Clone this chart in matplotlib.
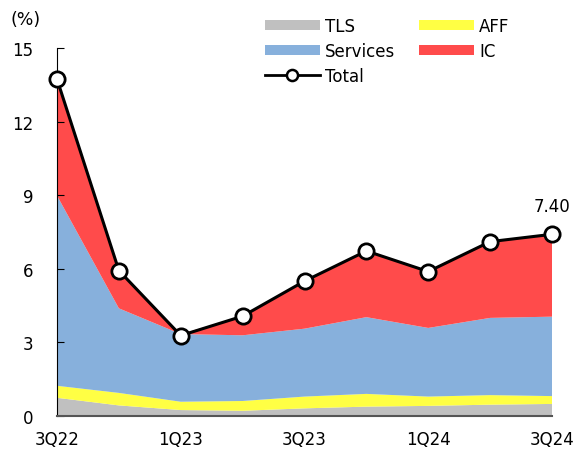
import matplotlib
matplotlib.use("Agg")
import matplotlib.pyplot as plt
import numpy as np
from matplotlib.patches import Patch
from matplotlib.lines import Line2D

plt.rcParams['font.family'] = ['DejaVu Sans']

quarters = ["3Q22", "4Q22", "1Q23", "2Q23", "3Q23", "4Q23", "1Q24", "2Q24", "3Q24"]
tls = [0.73, 0.42, 0.23, 0.20, 0.30, 0.37, 0.40, 0.45, 0.48]
aff = [0.49, 0.51, 0.34, 0.40, 0.48, 0.52, 0.38, 0.39, 0.32]
services = [7.76, 3.45, 2.76, 2.68, 2.77, 3.13, 2.80, 3.15, 3.24]
ic = [4.75, 1.54, 0.0, 0.78, 1.94, 2.70, 2.30, 3.11, 3.36]
total = [13.73, 5.92, 3.27, 4.06, 5.49, 6.72, 5.88, 7.10, 7.40]
y_ticks = [0, 3, 6, 9, 12, 15]
x_labels = ["3Q22", "", "1Q23", "", "3Q23", "", "1Q24", "", "3Q24"]

c_tls = "#c0c0c0"
c_aff = "#ffff44"
c_serv = "#87b0dc"
c_ic = "#ff4b4b"

fig = plt.figure(figsize=(5.74, 4.52), dpi=100)
ax = fig.add_axes([57/574, 1-416.7/452, (552-57)/574, (416.7-49)/452])

x = np.arange(len(quarters))
ax.stackplot(x, tls, aff, services, ic, colors=[c_tls, c_aff, c_serv, c_ic], linewidth=0)
ax.plot(x, total, color="black", lw=2.2, marker="o", markersize=11,
        markerfacecolor="white", markeredgecolor="black", markeredgewidth=2,
        clip_on=False, zorder=5)

ax.annotate(f"{total[-1]:.2f}", (x[-1], total[-1]), xytext=(0, 14),
            textcoords="offset points", ha="center", va="bottom", fontsize=12)

ax.set_xlim(0, len(quarters) - 1)
ax.set_ylim(0, 15)
ax.set_yticks(y_ticks)
ax.set_xticks(x)
ax.set_xticklabels(x_labels)
ax.tick_params(axis="y", direction="in", length=5, labelsize=12, pad=17)
ax.tick_params(axis="x", length=0, labelsize=12, pad=10)
for s in ["top", "right"]:
    ax.spines[s].set_visible(False)
ax.spines["left"].set_color("black")
ax.spines["bottom"].set_color("#555555")
ax.spines["bottom"].set_linewidth(1.5)

fig.text(10/574, 1-20/452, "(%)", fontsize=12.5, ha="left", va="center")

handles = [
    Patch(facecolor=c_tls, label="TLS"),
    Patch(facecolor=c_serv, label="Services"),
    Line2D([0], [0], color="black", lw=2, marker="o", markersize=8,
           markerfacecolor="white", markeredgewidth=1.8, label="Total"),
    Patch(facecolor=c_aff, label="AFF"),
    Patch(facecolor=c_ic, label="IC"),
]
fig.legend(handles=handles, ncol=2, loc="upper left", bbox_to_anchor=(253/574, 1 - 6/452),
           frameon=False, fontsize=12, handlelength=3.3, handleheight=0.6,
           labelspacing=0.42, columnspacing=1.45, handletextpad=0.3, borderpad=0.2)

fig.savefig("out.png", dpi=100)
